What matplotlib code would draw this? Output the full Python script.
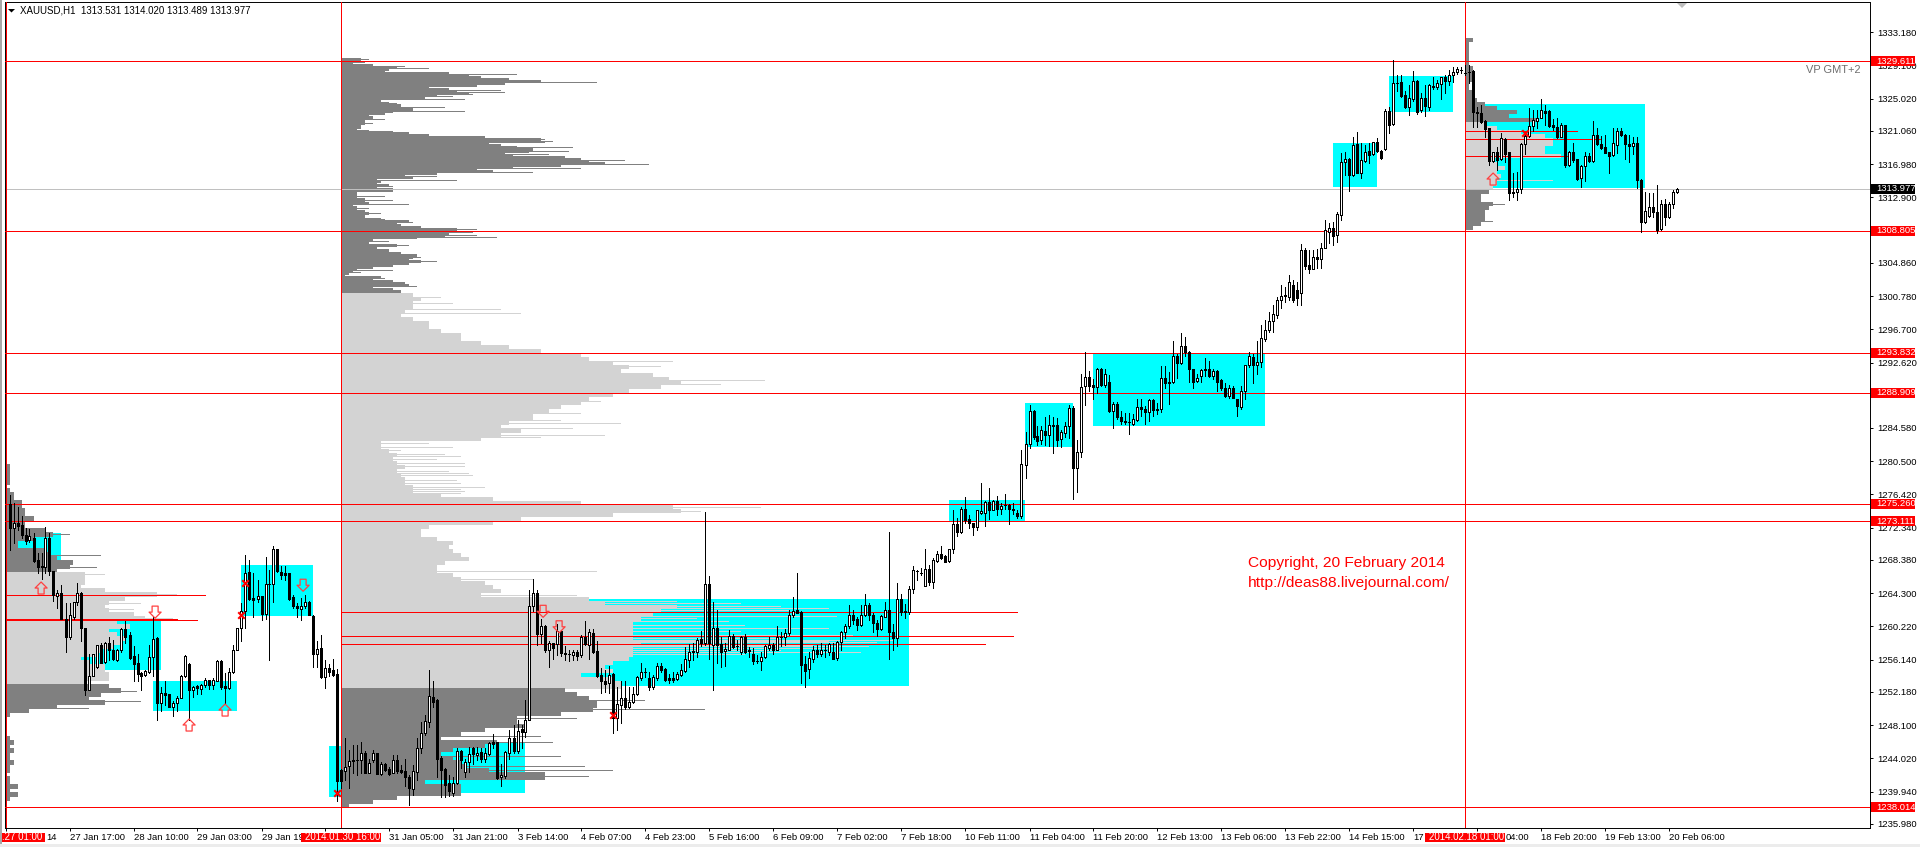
import matplotlib
matplotlib.use("Agg")
import matplotlib.pyplot as plt
import numpy as np
from matplotlib.markers import MarkerStyle
from matplotlib.patches import Rectangle, Polygon
from matplotlib.path import Path
from matplotlib.transforms import IdentityTransform

highs = [
1275.7,1274.7,1274.2,1273.1,1271.6,1271.5,1271.0,1268.6,1268.5,1271.7,
1271.0,1266.3,1264.0,1264.6,1262.4,1262.4,1262.5,1264.9,1263.8,1259.4,
1256.2,1256.2,1257.3,1257.5,1257.6,1258.3,1257.9,1256.8,1259.3,1260.2,
1258.9,1257.1,1256.2,1253.9,1254.2,1257.3,1260.7,1258.3,1252.1,1252.8,
1251.2,1250.4,1251.0,1253.6,1256.0,1255.0,1252.2,1252.3,1252.5,1253.2,
1253.0,1253.2,1255.4,1255.4,1253.8,1254.4,1257.3,1259.4,1262.4,1268.3,
1267.7,1266.1,1265.2,1263.3,1268.1,1266.5,1269.4,1269.1,1267.0,1267.0,
1266.1,1263.4,1262.4,1263.0,1263.4,1262.7,1260.9,1257.7,1258.5,1255.4,
1254.9,1255.6,1254.3,1242.0,1245.9,1244.4,1245.0,1245.0,1245.3,1244.3,
1243.3,1244.4,1244.0,1242.9,1242.8,1242.3,1243.8,1243.8,1242.5,1243.3,
1241.3,1242.5,1245.8,1247.8,1248.7,1254.2,1252.8,1250.6,1243.6,1242.1,
1241.3,1241.1,1244.6,1244.4,1243.3,1244.8,1244.8,1244.8,
1244.6,1244.6,1245.4,1246.3,1245.4,1242.7,1244.2,1246.8,1247.4,1248.1,1247.4,1250.5,
1264.0,1265.4,1264.0,1260.4,1259.7,1257.7,1257.5,1259.9,1259.1,1257.1,
1256.7,1256.7,1256.6,1258.5,1260.2,1259.2,1259.2,1257.7,1254.4,1254.2,
1254.7,1253.8,1252.1,1252.8,1252.8,1252.1,1252.1,1253.4,1255.0,1254.4,
1254.0,1253.6,1255.0,1255.0,1254.4,1253.7,1253.9,1254.0,1254.9,1257.0,
1257.4,1257.5,1258.1,1259.0,1273.6,1265.7,1262.6,1261.6,1258.3,1257.5,
1259.1,1258.6,1257.9,1258.4,1258.6,1257.0,1256.9,1256.0,1256.4,1257.3,
1258.3,1257.5,1259.6,1258.9,1259.2,1261.6,1263.1,1266.1,1261.4,
1255.9,1256.4,1257.1,1257.3,1257.5,1257.3,1257.5,1257.5,1257.7,1259.0,
1259.9,1262.2,1261.6,1260.7,1262.2,1263.5,1262.4,1261.2,1260.3,1261.0,
1262.6,1271.2,1259.9,1264.9,1263.5,1262.3,1264.5,1267.0,1266.5,1266.7,
1269.1,1267.1,1267.9,1268.8,1269.4,1268.3,1269.1,1273.8,1272.8,1274.2,
1275.4,1273.2,1272.3,1273.9,1277.1,1274.9,1276.5,1275.1,1275.6,1274.7,
1275.8,1274.6,1274.7,1273.9,
1281.2,1283.4,1286.7,1286.1,1284.1,1284.1,1285.3,1285.5,1285.2,1285.1,
1283.7,1284.7,1286.7,1286.6,1282.4,1290.6,1293.2,1290.9,1289.9,1291.3,
1291.3,1291.1,1290.4,1287.1,1287.1,1286.0,1285.8,1285.7,1285.6,1287.5,
1287.5,1286.6,1287.5,1287.5,1287.0,1291.5,1291.5,1290.8,1294.6,1293.0,
1295.6,1295.1,1293.4,1291.2,1290.5,1291.2,1292.5,1292.1,1291.2,1291.0,
1289.9,1289.4,1289.2,1289.1,1287.5,1289.1,1291.6,1293.2,1293.0,1294.6,
1296.5,1297.2,1298.1,1299.0,1300.0,
1301.5,1301.2,1302.7,1302.1,1301.8,1306.5,1306.0,1305.8,1305.8,1305.9,
1306.6,1309.4,1309.1,1309.2,1310.4,1317.7,1317.8,1317.1,1319.6,1320.3,
1318.9,1318.7,1318.9,1319.0,1319.5,1318.0,1323.1,1323.3,1329.1,1327.2,
1327.2,1325.3,1326.0,1327.7,1326.6,1325.0,1326.0,1326.1,1327.0,1326.6,
1327.0,1327.2,1327.9,1328.2,1328.2,1328.2,1328.5,1328.5,1327.9,1323.3,
1323.6,1321.7,1320.7,1317.8,1318.4,1320.1,1319.5,1317.8,1315.2,1315.3,
1318.9,1320.3,1323.2,1323.0,1323.0,1324.3,1323.6,1323.0,1321.8,1322.0,
1321.4,1321.1,1317.9,1318.9,1316.9,1316.2,1317.8,1317.7,1321.6,1320.7,
1319.8,1319.9,1317.8,1320.7,1320.7,1320.7,1320.0,1319.9,1319.6,1319.6,
1314.5,1312.9,1312.8,1312.8,1313.8,1311.9,1312.0,1311.7,1313.1,1313.35]

lows = [
1268.9,1269.8,1271.4,1270.4,1269.7,1269.9,1267.5,1266.1,1265.4,1266.1,
1265.9,1262.7,1261.8,1260.4,1256.4,1258.0,1260.5,1262.2,1257.8,1251.1,
1251.7,1253.4,1254.5,1255.0,1255.1,1255.4,1255.4,1255.3,1256.4,1257.5,
1255.6,1252.8,1252.8,1251.7,1253.5,1253.8,1253.4,1248.1,1249.2,1249.9,
1249.7,1248.5,1249.2,1250.7,1253.3,1248.1,1250.9,1251.3,1251.3,1252.1,
1251.9,1251.9,1252.8,1251.9,1250.1,1251.9,1253.8,1256.6,1257.8,1259.4,
1262.8,1260.7,1262.5,1260.3,1260.5,1255.4,1262.6,1266.2,1265.4,1265.2,
1262.8,1261.8,1260.7,1260.3,1261.8,1260.9,1254.6,1254.6,1253.2,1252.0,
1253.4,1253.5,1238.1,1239.7,1240.7,1239.7,1241.5,1241.3,1241.5,1241.5,
1241.5,1242.9,1241.4,1241.3,1241.8,1241.3,1241.5,1241.6,1241.5,1239.9,
1237.6,1238.8,1240.7,1244.0,1246.2,1247.2,1249.7,1241.1,1238.6,1238.6,
1238.7,1238.7,1240.2,1242.1,1241.1,1241.7,1242.7,1243.1,
1242.9,1242.9,1243.8,1244.6,1240.8,1239.95,1240.9,1243.3,1244.0,1244.0,1244.6,1246.0,
1248.1,1261.5,1257.3,1257.5,1256.4,1254.6,1255.6,1256.0,1255.9,1255.4,
1255.3,1255.4,1255.4,1255.8,1257.3,1255.6,1256.3,1253.3,1251.4,1251.5,
1251.4,1246.5,1246.8,1247.7,1249.4,1249.5,1250.1,1251.1,1253.0,1253.3,
1251.8,1251.9,1253.0,1254.0,1252.9,1252.6,1252.7,1253.0,1253.5,1254.0,
1254.6,1255.4,1255.8,1257.1,1257.3,1255.5,1251.7,1255.0,1254.6,1254.7,
1256.6,1256.9,1256.6,1256.2,1256.3,1255.8,1254.9,1255.0,1254.2,1255.7,
1256.6,1256.2,1256.6,1257.1,1257.3,1258.5,1260.7,1261.2,1252.6,
1252.1,1253.2,1255.2,1255.8,1255.9,1255.8,1256.0,1255.5,1255.4,1256.6,
1258.1,1259.3,1259.8,1259.1,1259.6,1260.8,1260.3,1258.9,1258.4,1259.1,
1260.7,1255.5,1256.6,1257.2,1261.0,1260.6,1261.1,1263.7,1265.2,1265.9,
1264.5,1264.6,1264.3,1267.5,1267.8,1267.4,1267.4,1268.6,1270.6,1271.0,
1272.3,1271.6,1270.8,1271.4,1273.4,1271.9,1272.7,1273.8,1273.2,1273.4,
1274.0,1272.1,1273.4,1272.8,
1272.9,1277.8,1281.5,1282.6,1281.8,1281.9,1281.8,1281.7,1280.8,1281.7,
1281.6,1282.8,1282.7,1275.2,1276.1,1280.4,1286.7,1288.4,1287.5,1288.2,
1289.1,1288.9,1285.9,1283.9,1285.0,1284.4,1284.4,1283.2,1284.3,1284.8,
1285.4,1284.4,1284.8,1285.4,1285.6,1285.9,1288.8,1286.8,1289.4,1290.1,
1291.8,1292.8,1289.5,1288.8,1289.6,1289.6,1290.3,1290.2,1289.9,1288.5,
1288.6,1287.7,1287.6,1287.6,1285.4,1286.3,1287.5,1291.4,1289.4,1290.5,
1291.4,1294.6,1295.7,1295.7,1297.4,
1298.6,1299.4,1299.6,1299.4,1299.0,1299.0,1303.4,1302.9,1303.4,1303.6,
1303.6,1306.0,1306.6,1306.4,1306.7,1309.4,1315.0,1313.0,1314.9,1315.2,
1314.6,1316.6,1316.4,1317.4,1317.8,1316.9,1318.0,1320.1,1321.1,1325.3,
1324.6,1323.2,1322.3,1324.1,1322.5,1322.7,1322.2,1323.0,1325.5,1325.5,
1324.3,1325.0,1326.0,1326.4,1327.4,1327.5,1327.3,1326.3,1320.9,1320.9,
1321.4,1319.6,1316.2,1316.6,1315.6,1316.8,1316.6,1311.9,1312.3,1311.9,
1312.8,1317.6,1319.6,1320.4,1320.7,1322.0,1321.1,1320.9,1320.5,1319.5,
1319.6,1315.9,1316.1,1316.6,1314.4,1313.5,1314.2,1316.6,1316.6,1318.7,
1318.2,1317.7,1315.2,1317.3,1317.7,1319.8,1316.9,1316.6,1317.6,1313.4,
1308.0,1309.1,1309.8,1309.8,1307.9,1308.2,1308.8,1309.7,1310.9,1312.82]

opens = [
1274.6,1271.6,1272.2,1272.0,1270.8,1270.1,1270.4,1267.7,1267.0,1266.9,
1270.4,1266.3,1263.3,1263.6,1260.5,1258.3,1260.7,1262.5,1263.6,1259.3,
1251.7,1253.5,1254.6,1257.3,1255.2,1257.5,1256.7,1255.4,1256.6,1259.2,
1258.5,1255.9,1255.0,1253.8,1253.6,1254.0,1255.8,1258.1,1250.1,1251.4,
1251.2,1249.7,1250.2,1250.8,1253.4,1254.9,1251.7,1252.2,1251.9,1252.3,
1253.0,1252.4,1252.9,1255.3,1252.2,1252.0,1253.9,1256.6,1259.3,1261.5,
1266.2,1263.0,1262.9,1263.3,1261.1,1264.8,1264.7,1269.0,1266.2,1266.1,
1266.1,1263.1,1262.1,1261.7,1262.0,1262.6,1260.8,1256.2,1256.9,1253.3,
1254.5,1254.2,1253.7,1241.9,1241.8,1242.4,1243.0,1243.1,1243.1,1244.0,
1241.6,1243.1,1244.0,1241.4,1242.6,1242.0,1241.6,1243.1,1241.9,1241.8,
1241.1,1239.6,1241.7,1244.6,1246.4,1247.8,1250.9,1250.5,1243.4,1242.0,
1240.3,1239.1,1240.3,1244.3,1241.7,1242.9,1244.6,1243.8,
1244.1,1243.3,1243.9,1245.3,1245.3,1241.0,1241.2,1244.0,1245.8,1244.2,1246.9,1246.6,
1248.1,1262.1,1263.6,1258.6,1259.6,1256.6,1257.5,1257.4,1259.0,1256.3,
1256.1,1256.0,1256.4,1256.0,1258.2,1257.3,1258.7,1256.5,1253.6,1252.9,
1252.6,1253.7,1248.3,1249.9,1250.8,1249.7,1250.3,1251.2,1253.2,1253.9,
1253.2,1252.1,1253.2,1254.7,1254.3,1253.2,1253.2,1253.1,1253.6,1254.1,
1255.4,1256.4,1256.4,1258.0,1257.5,1264.8,1257.3,1259.4,1257.4,1256.5,
1256.7,1258.4,1257.2,1256.4,1258.2,1256.6,1256.1,1255.3,1255.3,1255.8,
1256.9,1257.3,1256.7,1258.3,1258.2,1258.7,1260.9,1261.6,1261.3,
1254.9,1254.3,1255.5,1256.7,1256.2,1256.6,1256.4,1256.4,1255.7,1257.6,
1258.9,1259.6,1261.0,1260.4,1259.7,1261.0,1262.2,1260.9,1260.0,1259.2,
1260.7,1261.6,1258.9,1258.1,1262.9,1261.4,1261.3,1264.1,1266.4,1266.1,
1264.5,1266.6,1265.0,1267.6,1268.4,1268.2,1267.6,1269.0,1272.1,1271.1,
1274.0,1272.7,1272.2,1271.8,1273.5,1273.5,1274.8,1273.9,1274.9,1274.0,
1274.4,1274.4,1274.0,1273.5,
1273.1,1279.4,1281.9,1286.0,1282.9,1282.4,1283.5,1283.0,1284.3,1284.3,
1282.5,1283.3,1284.1,1286.4,1279.0,1281.0,1289.1,1290.2,1289.2,1288.9,
1291.2,1289.2,1289.5,1286.0,1286.9,1285.2,1284.8,1284.7,1284.4,1284.9,
1286.5,1286.2,1285.9,1287.4,1286.3,1286.3,1290.1,1289.5,1289.5,1292.8,
1291.9,1294.0,1293.3,1291.1,1289.7,1290.3,1291.0,1291.2,1290.3,1290.9,
1289.8,1288.8,1287.9,1288.8,1287.5,1286.5,1288.4,1291.6,1292.6,1291.6,
1292.0,1294.8,1295.9,1297.0,1297.8,
1299.6,1300.1,1300.0,1301.5,1300.9,1300.5,1305.8,1303.9,1303.4,1304.9,
1304.7,1306.0,1308.0,1308.5,1307.6,1310.1,1316.6,1317.0,1315.0,1318.8,
1315.2,1316.7,1317.9,1317.6,1319.0,1317.9,1318.2,1322.8,1321.2,1326.3,
1326.4,1324.8,1323.3,1324.3,1326.5,1323.0,1324.4,1323.3,1325.9,1325.8,
1326.1,1327.0,1326.5,1327.3,1327.6,1327.9,1327.5,1327.6,1327.7,1322.7,
1322.6,1321.6,1320.7,1316.7,1317.8,1316.9,1319.4,1317.8,1312.8,1312.9,
1313.3,1318.8,1319.8,1321.0,1321.6,1322.0,1322.8,1322.8,1321.1,1320.9,
1319.6,1321.1,1316.2,1317.8,1316.9,1314.6,1316.1,1317.3,1316.7,1319.9,
1318.8,1318.4,1317.8,1317.4,1318.7,1320.4,1319.9,1318.8,1318.5,1318.9,
1314.4,1309.2,1309.9,1311.0,1310.4,1308.3,1311.4,1309.8,1311.4,1312.86]

closes = [
1271.6,1272.2,1271.9,1270.8,1270.0,1270.6,1267.6,1266.8,1266.8,1270.4,
1266.3,1263.4,1263.6,1260.5,1258.3,1260.9,1262.5,1263.7,1259.3,1251.7,
1253.5,1256.1,1257.3,1255.1,1257.5,1256.7,1255.5,1256.6,1259.2,1258.3,
1255.7,1254.9,1253.7,1253.5,1254.1,1255.8,1258.0,1250.1,1251.4,1251.1,
1249.7,1250.1,1250.8,1253.5,1255.9,1251.7,1252.1,1252.0,1252.3,1253.0,
1252.3,1253.0,1255.3,1252.1,1252.0,1253.9,1256.7,1259.3,1261.5,1266.1,
1262.9,1262.8,1263.3,1261.1,1264.8,1264.7,1269.0,1266.3,1265.9,1265.9,
1262.9,1262.0,1261.8,1262.0,1262.6,1260.9,1256.2,1256.8,1253.3,1254.5,
1254.0,1253.6,1240.6,1240.6,1242.3,1243.0,1243.1,1243.1,1244.0,1241.6,
1242.8,1244.0,1241.4,1242.6,1241.9,1241.4,1243.1,1241.8,1241.7,1241.0,
1239.7,1241.8,1244.6,1246.4,1247.9,1251.0,1250.3,1243.3,1241.9,1240.1,
1239.3,1240.3,1244.3,1243.1,1242.9,1243.9,1243.9,1244.0,
1243.3,1244.0,1245.2,1245.1,1240.9,1241.3,1244.1,1245.8,1244.2,1246.7,1246.6,1248.1,
1262.1,1263.6,1258.6,1259.6,1256.6,1257.5,1256.9,1259.0,1256.3,1256.1,
1256.1,1256.4,1255.95,1258.2,1257.4,1258.9,1256.4,1253.5,1252.9,1252.5,
1253.6,1248.3,1250.0,1250.8,1249.7,1250.3,1251.2,1253.3,1253.9,1253.9,
1252.1,1253.3,1254.7,1254.2,1253.0,1253.0,1253.0,1253.7,1254.2,1255.5,
1256.4,1256.5,1257.9,1257.5,1264.8,1257.5,1259.3,1257.3,1256.4,1256.8,
1258.4,1257.0,1257.1,1258.2,1256.4,1256.5,1255.3,1255.3,1255.8,1257.1,
1257.3,1256.7,1258.3,1258.3,1258.7,1260.9,1261.5,1261.2,1254.8,
1254.1,1255.7,1256.7,1256.2,1256.6,1256.6,1257.4,1255.6,1257.6,1258.8,
1259.6,1261.0,1260.3,1259.7,1261.0,1262.2,1260.9,1260.0,1259.2,1260.8,
1261.6,1258.9,1258.1,1262.9,1261.3,1261.3,1264.1,1266.5,1266.4,1266.1,
1266.6,1265.0,1267.7,1268.4,1268.0,1267.5,1269.0,1272.1,1271.1,1274.0,
1272.6,1272.3,1271.7,1273.8,1273.7,1274.8,1273.8,1274.9,1274.0,1274.3,
1274.4,1274.0,1273.9,1273.1,
1279.5,1281.9,1286.0,1282.8,1282.3,1283.7,1283.0,1284.3,1284.2,1282.4,
1283.4,1284.1,1286.4,1279.0,1281.0,1289.0,1290.2,1289.1,1289.0,1291.2,
1289.2,1290.5,1286.0,1286.9,1285.2,1284.8,1284.6,1284.6,1285.0,1286.5,
1286.2,1285.9,1287.4,1286.1,1286.1,1290.1,1289.4,1289.4,1292.8,1291.9,
1294.0,1293.2,1291.1,1289.6,1290.1,1291.0,1291.2,1290.3,1290.9,1289.6,
1288.8,1287.9,1288.8,1287.6,1286.6,1288.4,1291.6,1292.7,1291.6,1292.0,
1294.9,1295.9,1297.0,1297.9,1299.6,
1300.1,1300.2,1301.8,1299.6,1299.9,1305.8,1303.8,1303.4,1304.9,1304.7,
1306.0,1308.2,1308.5,1307.5,1310.2,1316.6,1317.0,1315.0,1318.7,1315.2,
1316.8,1317.8,1317.4,1319.0,1317.9,1317.1,1322.8,1321.1,1326.3,1326.3,
1324.7,1323.3,1324.4,1326.5,1322.7,1324.4,1323.4,1326.0,1325.8,1326.3,
1327.0,1326.5,1327.3,1327.6,1328.0,1327.9,1327.5,1327.6,1322.7,1322.6,
1321.5,1320.6,1316.7,1317.8,1316.8,1319.5,1317.6,1312.8,1312.9,1313.3,
1318.8,1319.8,1321.0,1321.7,1322.0,1323.0,1322.6,1321.0,1320.9,1319.6,
1321.1,1316.2,1317.8,1316.8,1314.5,1316.1,1317.3,1316.7,1319.9,1318.8,
1318.3,1317.7,1317.3,1318.9,1320.4,1319.9,1318.8,1318.5,1318.9,1314.4,
1309.2,1310.6,1311.0,1310.4,1308.2,1311.4,1309.8,1311.4,1312.9,1313.31]

# market-profile widths, in bars per price row
vp1_dark_top = [1,1,1,1,1,0,1,2,2,4,4,5,5,7,5,5,10,12,7,3,3,10,11,13,17,16,13]
vp1_light = [20,20,20,19,25,38,30,26,25,26,32,35,28,31,26,28,30,29,27,24,23,19,21,25,25,26,26,20]
vp1_dark_low = [26,29,24,21,25,13,6,1,0,0,0,0,0,1,2,1,2,1,1,2,1,1,0,1,1,3,1,3,1]
vp1_spike_price = [1270.8,1268.3,1266.8,1265.9,1263.5,1262.4,1261.6,1260.5,1251.5,1250.3,1249.5]
vp1_spike_width = [16,24,23,25,43,34,32,42,33,34,21]

vp2_dark_top = [5,5,3,8,14,12,11,27,32,35,42,50,41,34,22,27,29,32,24,21,10,10,12,15,15,18,13,11,7,8,
 4,6,6,5,5,4,7,17,22,36,50,40,37,40,44,48,47,41,43,56,60,62,66,55,43,34,38,24,16,18,
 9,10,9,12,9,13,4,4,4,4,6,6,7,3,4,4,6,7,6,6,10,17,14,15,20,29,28,27,26,19,
 8,7,7,14,9,9,12,15,19,18,17,20,17,13,8,4,3,2,1,10,8,13,16,17,8,13,15,15]
vp2_light = [18,20,18,18,16,15,18,22,22,25,30,30,35,42,50,60,62,68,72,70,78,82,85,80,72,68,62,60,55,52,48,48,42,40,45,40,35,
 10,10,12,14,13,14,16,14,15,16,16,18,18,25,38,60,83,85,68,45,38,22,20,20,24,28,27,28,30,32,26,24,24,28,30,36,38,40,35,62,
 66,84,80,78,75,73,73,73,73,73,75,73,73,73,72,68,66,68,60,68,70,70]
vp2_dark_low = [56,59,62,64,64,63,55,44,44,46,36,30,25,39,36,28,25,28,30,31,37,51,51,21,30,30,30,14,8,2]
vp2_dark_spike_price = [1329.2,1328.85,1328.3,1328.07,1327.33,1326.84,1326.6,1326.35,1325.33,1325.08,1324.84,1324.59,1324.26,1323.77,1323.28,1322.79,1321.8,1321.32,1320.33,1319.35,1319.1,1318.98,1318.37,1317.88,1317.5,1317.26,1316.77,1316.28,1315.79,1315.3,1314.8,1314.32,1313.58,1313.0,1312.35,1311.86,1311.37,1310.88,1310.63,1310.26,1309.53,1309.28,1309.1,1308.54,1308.3,1307.93,1307.56,1307.32,1306.83,1306.33,1305.84,1305.35,1304.86,1304.37,1303.26,1303.02,1302.28,1301.79,1301.3,1300.65,
 1250.5,1249.36,1248.26,1246.0,1245.27,1243.55,1242.32,1241.83,1241.1]
vp2_dark_spike_width = [7,6,16,22,44,41,44,64,40,41,33,28,31,14,26,31,11,8,13,51,53,51,58,57,52,56,71,77,60,48,24,29,13,13,11,13,17,7,5,10,11,17,18,20,34,33,34,39,12,17,12,15,20,24,13,5,11,15,19,15,
 76,91,59,50,53,55,61,68,62]
vp2_light_spike_price = [1299.9,1299.2,1298.5,1298.0,1292.1,1291.5,1289.7,1289.2,1284.5,1283.0,1274.1,1273.6,1281.2,1280.4,1279.2,1278.3,1277.5,1276.3,1275.9,1266.27,1265.3,1263.3,
 1262.58,1262.38,1261.97,1261.56,1260.54,1260.13,1259.72,1259.31,1258.9,1258.49,1258.08,1257.67,1257.26,1256.85,1256.57,1256.12,
 1261.76,1260.74,1259.31,1258.49,1257.87,1257.55,1257.14,1256.36,
 1287.2,1285.75,1284.8,1283.8,1282.8,1282.06,1281.57,1280.6,1280.1,1279.6,1278.6,1278.1,1277.15,1276.66,1276.17]
vp2_light_spike_width = [25,28,40,45,83,80,106,95,70,66,105,90,15,30,31,32,29,30,30,64,48,59,
 84,100,110,112,89,97,101,89,100,122,110,122,118,122,110,101,
 122,124,122,128,138,134,132,130,
 65,60,55,58,50,22,28,26,24,31,27,33,30,36,31]

vp3_dark_top = [2,1,1,1,1,1,1,2,2,2,2,1,1,2,2,3,5,8,13,11,18]
vp3_light = [5,8,14,20,22,22,20,20,24,7,8,10,8,9,8,8,7]
vp3_dark_low = [6,4,4,7,6,5,5,5,4,2]
vp3_spike_price = [1314.28,1311.4,1309.3]
vp3_spike_width = [22,10,7]

zone_left = [1.9,17.9,35.9,57.9,79.9,100.9,130.9,234.9,253.9,270.9,330.9,344.9,367.9]
zone_right = [12.9,37.9,56.9,75.9,83.9,128.9,224.9,253.9,265.9,313.9,341.9,360.9,408.9]
zone_high = [1271.0,1260.2,1252.8,1267.1,1244.9,1245.2,1262.9,1275.1,1287.0,1293.1,1318.9,1327.1,1323.7]
zone_low = [1267.7,1254.2,1249.2,1260.8,1238.6,1239.1,1252.2,1272.5,1281.6,1284.1,1313.5,1322.7,1313.4]

levels = [1329.611,1308.805,1293.832,1288.909,1275.26,1273.111,1238.014]
current_price = 1313.977
vline_bars = [-1,83,364]
short_price = [1263.46,1263.36,1260.5,1260.3,1261.27,1258.33,1257.35,1320.34,1319.35,1317.27]
short_start = [-1,-1,-1,-1,83,83,83,364,364,364]
short_end = [41.9,48.9,41.9,46.9,251.9,250.9,243.9,391.9,397.6,389.4]

up_x = [7.9,44.9,53.9,370.9]
up_y = [1264.26,1247.44,1249.28,1314.48]
down_x = [36.4,73.4,133.4,137.4]
down_y = [1261.3,1264.6,1261.4,1259.5]
cross_x = [58.9,57.9,81.9,150.9,378.9]
cross_y = [1264.9,1260.95,1239.1,1248.67,1320.13]

y_tick_values = [1333.18,1329.10,1325.02,1321.06,1316.98,1312.90,1308.82,1304.86,1300.78,1296.70,1292.62,1288.66,1284.58,1280.50,1276.42,1272.34,1268.38,1264.30,1260.22,1256.14,1252.18,1248.10,1244.02,1239.94,1235.98]
y_tick_hidden = [1308.82,1288.66]
x_tick_labels = ["","27 Jan 17:00","28 Jan 10:00","29 Jan 03:00","29 Jan 19","","31 Jan 05:00","31 Jan 21:00","3 Feb 14:00","4 Feb 07:00","4 Feb 23:00","5 Feb 16:00","6 Feb 09:00","7 Feb 02:00","7 Feb 18:00","10 Feb 11:00","11 Feb 04:00","11 Feb 20:00","12 Feb 13:00","13 Feb 06:00","13 Feb 22:00","14 Feb 15:00","17","","18 Feb 20:00","19 Feb 13:00","20 Feb 06:00"]

# the readings above were all taken with one scale constant that was 0.67 too low
READ_CORRECTION = 0.67
def fixed(values):
    return np.asarray(values, dtype=float) + READ_CORRECTION
opens, highs, lows, closes = map(fixed, (opens, highs, lows, closes))
zone_high, zone_low, short_price, up_y, down_y, cross_y = map(fixed, (zone_high, zone_low, short_price, up_y, down_y, cross_y))
vp1_spike_price, vp2_dark_spike_price, vp2_light_spike_price, vp3_spike_price = map(
    fixed, (vp1_spike_price, vp2_dark_spike_price, vp2_light_spike_price, vp3_spike_price))

FONT = "Liberation Sans"
TXT = 6.8
PX = 0.72
LW = 0.7
DARK = "#808080"
LIGHT = "#D3D3D3"
CYAN = "#00FFFF"
RED = "#FF0000"

plt.rcParams["font.family"] = FONT
W, H = 1920, 847
fig = plt.figure(figsize=(W / 100, H / 100), dpi=100)
L, R, T, B = 4.5, 1870, 2.5, 827.5
ax = fig.add_axes([L / W, 1 - B / H, (R - L) / W, (B - T) / H])
ax.set_xlim(-1.25, 465.125)
ax.set_ylim(1235.525, 1336.827)
for s in ax.spines.values():
    s.set_linewidth(LW)
    s.set_color("black")

# zones
ax.bar(zone_left, np.array(zone_high) - np.array(zone_low), width=np.array(zone_right) - np.array(zone_left),
       bottom=zone_low, align="edge", color=CYAN, linewidth=0, antialiased=False, zorder=1)

STEP = 0.12279
def rows(start_price, row_px, widths, left, color):
    prices = start_price + READ_CORRECTION - np.arange(len(widths)) * row_px * STEP
    ax.barh(prices, widths, height=row_px * STEP * 1.15, left=left, color=color, linewidth=0, antialiased=False, zorder=2)
def spikes(prices, widths, left, color):
    ax.barh(prices, widths, height=STEP, left=left, color=color, linewidth=0, antialiased=False, zorder=2)

rows(1279.16, 4, vp1_dark_top, -1, DARK)
rows(1265.9, 4, vp1_light, -1, LIGHT)
rows(1252.14, 4, vp1_dark_low, -1, DARK)
spikes(vp1_spike_price[:3], vp1_spike_width[:3], -1, DARK)
spikes(vp1_spike_price[3:8], vp1_spike_width[3:8], -1, LIGHT)
spikes(vp1_spike_price[8:], vp1_spike_width[8:], -1, DARK)

rows(1329.17, 2, vp2_dark_top, 83, DARK)
rows(1300.24, 4, vp2_light, 83, LIGHT)
rows(1251.74, 4, vp2_dark_low, 83, DARK)
spikes(vp2_dark_spike_price, vp2_dark_spike_width, 83, DARK)
spikes(vp2_light_spike_price, vp2_light_spike_width, 83, LIGHT)

rows(1331.55, 4, vp3_dark_top, 364, DARK)
rows(1321.24, 4, vp3_light, 364, LIGHT)
rows(1312.89, 4, vp3_dark_low, 364, DARK)
spikes(vp3_spike_price[:1], vp3_spike_width[:1], 364, LIGHT)
spikes(vp3_spike_price[1:], vp3_spike_width[1:], 364, DARK)

# lines
ax.axhline(current_price, color="#C0C0C0", lw=LW, zorder=2.5, antialiased=False)
for lev in levels:
    ax.axhline(lev, color=RED, lw=LW, zorder=3, antialiased=False)
for v in vline_bars:
    ax.axvline(v, color=RED, lw=LW, zorder=3, antialiased=False)
ax.hlines(short_price, short_start, short_end, color=RED, lw=LW, zorder=3, antialiased=False)

# candles
idx = np.arange(len(closes))
o, h, l, c = opens, highs, lows, closes
up = c >= o
ax.vlines(idx, l, h, color="black", lw=LW, zorder=4, antialiased=False)
body_low = np.minimum(o, c)
body_h = np.abs(c - o)
ax.bar(idx[up], body_h[up], bottom=body_low[up], width=0.5, facecolor="white", edgecolor="black",
       linewidth=LW, antialiased=False, zorder=5)
ax.bar(idx[~up], body_h[~up], bottom=body_low[~up], width=0.5, facecolor="black", edgecolor="black",
       linewidth=LW, antialiased=False, zorder=5)

# signals
up_path = Path([(-.25,-.5),(.25,-.5),(.25,0),(.5,0),(0,.5),(-.5,0),(-.25,0),(-.25,-.5)], closed=True)
down_path = Path([(-.25,.5),(.25,.5),(.25,0),(.5,0),(0,-.5),(-.5,0),(-.25,0),(-.25,.5)], closed=True)
ax.scatter(up_x, up_y, s=75, marker=MarkerStyle(up_path), facecolors="none", edgecolors="#FF4040", linewidths=0.9, zorder=6)
ax.scatter(down_x, down_y, s=75, marker=MarkerStyle(down_path), facecolors="none", edgecolors="#FF4040", linewidths=0.9, zorder=6)
ax.scatter(cross_x, cross_y, s=22, marker="x", color=RED, linewidths=1.5, zorder=6)

# axes ticks
ax.yaxis.tick_right()
ax.set_yticks(y_tick_values)
ax.set_yticklabels(["" if v in y_tick_hidden else f"{v:.3f}" for v in y_tick_values], fontsize=TXT, color="black")
ax.tick_params(axis="y", length=3 * PX, width=LW, pad=3.2, direction="out")
ax.set_xticks(-1 + 16 * np.arange(len(x_tick_labels)))
ax.set_xticklabels(x_tick_labels, fontsize=TXT, color="black", ha="left")
ax.tick_params(axis="x", length=3 * PX, width=LW, pad=2.0, direction="out")

# annotations in the chart
fig.text(1247.7 / W, 1 - 563 / H, "Copyright, 20 February 2014", color=RED, fontsize=11.15, va="center", ha="left", zorder=10)
fig.text(1247.7 / W, 1 - 583 / H, "http://deas88.livejournal.com/", color=RED, fontsize=11.15, va="center", ha="left", zorder=10)
fig.text(1806 / W, 1 - 70 / H, "VP GMT+2", color="#6E6E6E", fontsize=11 * PX, va="center", ha="left", zorder=10)
fig.text(20 / W, 1 - 10.7 / H, "XAUUSD,H1  1313.531 1314.020 1313.489 1313.977", color="black", fontsize=7.0, va="center", ha="left", zorder=10)

idt = IdentityTransform()
def box(x0, x1, y0, y1, color, z=4):
    fig.add_artist(Rectangle((x0, H - y1), x1 - x0, y1 - y0, transform=idt, facecolor=color, edgecolor="none", zorder=z))
def tri(points, color):
    fig.add_artist(Polygon([(x, H - y) for x, y in points], closed=True, transform=idt, facecolor=color, edgecolor="none", zorder=4))

fig.canvas.draw()
def price_px(p):
    return H - ax.transData.transform((0, p))[1]

for lev in levels:
    yy = price_px(lev)
    box(1871, 1915, yy - 5, yy + 5, RED)
    fig.text(1876.7 / W, 1 - yy / H, f"{lev:.3f}", color="white", fontsize=TXT, va="center", ha="left", zorder=6)
yy = price_px(current_price)
box(1871, 1915, yy - 5, yy + 5, "black")
fig.text(1876.7 / W, 1 - yy / H, f"{current_price:.3f}", color="white", fontsize=TXT, va="center", ha="left", zorder=6)

box(0, 45, 832.5, 842, RED)
fig.text(2 / W, 1 - 837 / H, ".27 01:00", color="white", fontsize=TXT + 0.2, va="center", ha="left", zorder=6)
fig.text(46 / W, 1 - 837 / H, "14", color="black", fontsize=TXT, va="center", ha="left", zorder=6)
box(301, 381, 832.5, 842, RED)
fig.text(305 / W, 1 - 837 / H, "2014.01.30 16:00", color="white", fontsize=TXT + 0.2, va="center", ha="left", zorder=6)
box(1425, 1504.5, 832.5, 842, RED)
fig.text(1429 / W, 1 - 837 / H, "2014.02.18 01:00", color="white", fontsize=TXT + 0.2, va="center", ha="left", zorder=6)
fig.text(1506 / W, 1 - 837 / H, "04:00", color="black", fontsize=TXT, va="center", ha="left", zorder=6)

box(0, 1920, 844, 847, "#ECECEC")
box(0, 1.5, 0, 844, "#A8A8A8")
tri([(8, 9), (15, 9), (11.5, 12.5)], "black")
tri([(1677, 3), (1687, 3), (1682, 8)], "#BDBDBD")

fig.savefig("out.png", dpi=100)
